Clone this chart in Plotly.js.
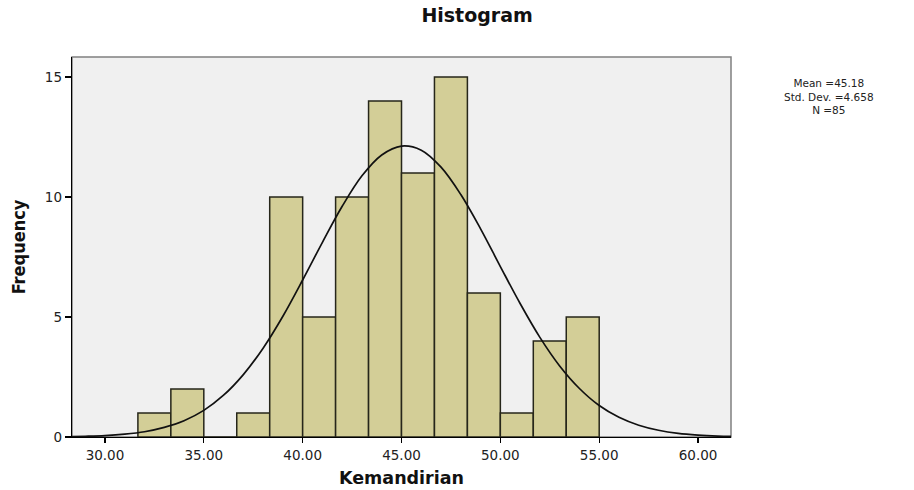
<!DOCTYPE html>
<html>
<head>
<meta charset="utf-8">
<script src="https://cdn.plot.ly/plotly-3.0.1.min.js"></script>
<style>
  html, body { margin: 0; padding: 0; background: #ffffff; }
  #chart { width: 914px; height: 490px; }
</style>
</head>
<body>
<div id="chart"></div>
<script>
// ---- Data ----
const binCenters = [32.5, 34.167, 35.833, 37.5, 39.167, 40.833, 42.5, 44.167, 45.833, 47.5, 49.167, 50.833, 52.5, 54.167];
const binCounts  = [1, 2, 0, 1, 10, 5, 10, 14, 11, 15, 6, 1, 4, 5];
const binWidth = 1.6667;

const curveX = [28, 29, 30, 31, 32, 33, 34, 35, 36, 37, 38, 39, 40, 41, 42, 43, 44, 45,
                46, 47, 48, 49, 50, 51, 52, 53, 54, 55, 56, 57, 58, 59, 60, 61, 62];
const curveY = [0.01, 0.03, 0.06, 0.12, 0.22, 0.40, 0.68, 1.11, 1.74, 2.60, 3.70, 5.03, 6.54, 8.11, 9.61, 10.88, 11.75, 12.12,
                11.95, 11.24, 10.10, 8.67, 7.10, 5.56, 4.15, 2.96, 2.02, 1.31, 0.82, 0.49, 0.28, 0.15, 0.08, 0.04, 0.02];

const xTickValues = [30, 35, 40, 45, 50, 55, 60];
const xTickLabels = ['30.00', '35.00', '40.00', '45.00', '50.00', '55.00', '60.00'];
const yTickValues = [0, 5, 10, 15];

const statMean = '45.18';
const statSD = '4.658';
const statN = '85';

const chartTitle = 'Histogram';
const xTitle = 'Kemandirian';
const yTitle = 'Frequency';

// ---- Traces ----
const bars = {
  type: 'bar',
  x: binCenters,
  y: binCounts,
  width: binWidth,
  marker: { color: '#D3CE97', line: { color: '#26261a', width: 1.5 } },
  hoverinfo: 'x+y',
  showlegend: false
};

const curve = {
  type: 'scatter',
  mode: 'lines',
  x: curveX,
  y: curveY,
  line: { color: '#111111', width: 1.7, shape: 'spline', smoothing: 1 },
  hoverinfo: 'skip',
  showlegend: false
};

const tickFont = { family: 'DejaVu Sans, Liberation Sans, Arial, sans-serif', size: 13.5, color: '#222222' };
const statFont = { family: 'DejaVu Sans, Liberation Sans, Arial, sans-serif', size: 10.5, color: '#222222' };

const layout = {
  width: 914,
  height: 490,
  margin: { l: 72, r: 183, t: 57, b: 53, pad: 0 },
  paper_bgcolor: '#ffffff',
  plot_bgcolor: '#F0F0F0',
  bargap: 0,
  title: {
    text: '<b>' + chartTitle + '</b>',
    x: 0.522, xanchor: 'center',
    y: 1 - 15 / 490, yanchor: 'middle', yref: 'container',
    font: { family: 'DejaVu Sans, Liberation Sans, Arial, sans-serif', size: 19, color: '#111111' }
  },
  xaxis: {
    range: [28.333, 61.667],
    tickmode: 'array',
    tickvals: xTickValues,
    ticktext: xTickLabels,
    ticks: 'outside', ticklen: 5, tickwidth: 1.3, tickcolor: '#000000',
    showline: true, linecolor: '#000000', linewidth: 1.3,
    showgrid: false, zeroline: false,
    tickfont: tickFont,
    automargin: false,
    title: {
      text: '<b>' + xTitle + '</b>',
      standoff: 10,
      font: { family: 'DejaVu Sans, Liberation Sans, Arial, sans-serif', size: 17.5, color: '#111111' }
    }
  },
  yaxis: {
    range: [0, 15.83],
    tickmode: 'array',
    tickvals: yTickValues,
    ticks: 'outside', ticklen: 6, tickwidth: 1.3, tickcolor: '#000000',
    showline: true, linecolor: '#000000', linewidth: 1.3,
    showgrid: false, zeroline: false,
    tickfont: tickFont,
    automargin: false,
    title: {
      text: '<b>' + yTitle + '</b>',
      standoff: 14,
      font: { family: 'Liberation Sans Narrow, DejaVu Sans Condensed, Arial Narrow, sans-serif', size: 18, color: '#111111' }
    }
  },
  shapes: [
    { type: 'rect', xref: 'paper', yref: 'paper', x0: 0, x1: 1, y0: 0, y1: 1,
      line: { color: '#808080', width: 1.5 }, fillcolor: 'rgba(0,0,0,0)', layer: 'below' }
  ],
  annotations: [
    { text: 'Mean =' + statMean + '<br>Std. Dev. =' + statSD + '<br>N =' + statN,
      xref: 'paper', yref: 'paper', x: 1.148, y: 0.895,
      xanchor: 'center', yanchor: 'middle', align: 'center', showarrow: false, font: statFont }
  ]
};

Plotly.newPlot('chart', [bars, curve], layout, { staticPlot: true, displayModeBar: false });
</script>
</body>
</html>
